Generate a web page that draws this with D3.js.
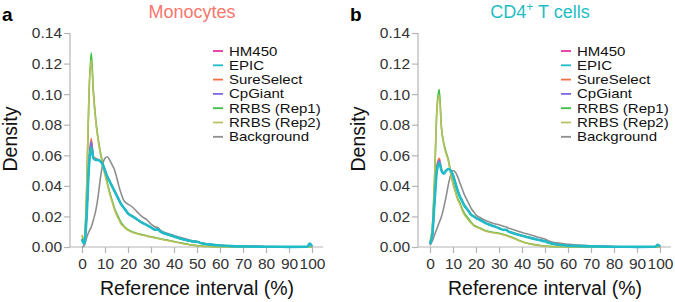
<!DOCTYPE html>
<html>
<head>
<meta charset="utf-8">
<script src="https://cdn.jsdelivr.net/npm/d3@7"></script>
<style>
  html, body { margin: 0; padding: 0; background: #fff; }
  svg { display: block; font-family: "Liberation Sans", Arial, Helvetica, sans-serif; }
</style>
</head>
<body>
<svg id="chart" width="675" height="302"></svg>
<script>
// ---------- DATA ----------
const xGrid = [0,1,2,3,4,5,6,7,8,9,10,11,12,13,14,15,16,17,18,19,20,22,24,26,28,30,32,33,34,36,38,40,42,44,46,48,50,52,55,60,65,70,80,90,98,99,100];

const seriesNames = ["HM450","EPIC","SureSelect","CpGiant","RRBS (Rep1)","RRBS (Rep2)","Background"];
const seriesColors = ["#E5359B","#1FBCC8","#F07046","#7B6BE8","#3CBF3C","#BDBE5E","#8E8E8E"];
const yTicks = [0, 0.02, 0.04, 0.06, 0.08, 0.10, 0.12, 0.14];
const xTicks = [0,10,20,30,40,50,60,70,80,90,100];

// Monocytes (panel a)
const monoHM450 =      [0.005,0.002,0.020,0.053,0.068,0.058,0.057,0.057,0.056,0.054,0.050,0.046,0.043,0.040,0.037,0.034,0.031,0.028,0.026,0.024,0.022,0.020,0.018,0.016,0.0145,0.0128,0.0113,0.0115,0.0102,0.0088,0.0078,0.0068,0.0059,0.0050,0.0043,0.0037,0.0034,0.0024,0.0017,0.0010,0.0006,0.0004,0.0002,0.0001,0.0002,0.0022,0.0004];
const monoEPIC =       [0.005,0.002,0.020,0.052,0.065,0.058,0.057,0.057,0.056,0.054,0.050,0.046,0.043,0.040,0.037,0.034,0.031,0.028,0.026,0.024,0.022,0.020,0.018,0.016,0.0145,0.0128,0.0113,0.0115,0.0102,0.0088,0.0078,0.0068,0.0059,0.0050,0.0043,0.0037,0.0034,0.0024,0.0017,0.0010,0.0006,0.0004,0.0002,0.0001,0.0002,0.0022,0.0004];
const monoSureSelect = [0.005,0.002,0.021,0.055,0.071,0.059,0.058,0.057,0.056,0.054,0.050,0.046,0.043,0.040,0.037,0.034,0.031,0.028,0.026,0.024,0.022,0.020,0.018,0.016,0.0145,0.0128,0.0113,0.0115,0.0102,0.0088,0.0078,0.0068,0.0059,0.0050,0.0043,0.0037,0.0034,0.0024,0.0017,0.0010,0.0006,0.0004,0.0002,0.0001,0.0002,0.0022,0.0004];
const monoCpGiant =    [0.005,0.002,0.020,0.054,0.069,0.058,0.057,0.057,0.056,0.054,0.050,0.046,0.043,0.040,0.037,0.034,0.031,0.028,0.026,0.024,0.022,0.020,0.018,0.016,0.0145,0.0128,0.0113,0.0115,0.0102,0.0088,0.0078,0.0068,0.0059,0.0050,0.0043,0.0037,0.0034,0.0024,0.0017,0.0010,0.0006,0.0004,0.0002,0.0001,0.0002,0.0022,0.0004];
const monoRRBS1 =      [0.007,0.004,0.035,0.097,0.127,0.101,0.083,0.071,0.062,0.055,0.048,0.042,0.036,0.031,0.026,0.022,0.019,0.016,0.014,0.0125,0.0113,0.0098,0.0089,0.0081,0.0074,0.0067,0.0061,0.0058,0.0054,0.0048,0.0042,0.0036,0.0030,0.0024,0.0018,0.0013,0.0009,0.0006,0.0003,0.0002,0.0001,0.0001,0,0,0,0.0002,0];
const monoRRBS2 =      [0.008,0.005,0.038,0.099,0.122,0.099,0.082,0.070,0.061,0.054,0.047,0.041,0.035,0.030,0.025,0.021,0.018,0.015,0.0135,0.012,0.011,0.0095,0.0087,0.0079,0.0072,0.0065,0.0059,0.0056,0.0052,0.0046,0.0040,0.0034,0.0028,0.0022,0.0016,0.0011,0.0008,0.0005,0.0003,0.0001,0.0001,0,0,0,0,0.0002,0];
const monoBackground = [0.000,0.001,0.006,0.010,0.013,0.018,0.024,0.033,0.045,0.054,0.058,0.059,0.057,0.054,0.051,0.046,0.040,0.035,0.031,0.029,0.028,0.026,0.023,0.020,0.018,0.015,0.013,0.0128,0.011,0.0095,0.0085,0.0075,0.0066,0.0057,0.0049,0.0041,0.0036,0.0027,0.0019,0.0011,0.0007,0.0005,0.0003,0.0001,0.0002,0.0018,0.0003];

// CD4+ T cells (panel b)
const cd4HM450 =       [0.002,0.008,0.030,0.052,0.056,0.050,0.048,0.050,0.051,0.050,0.047,0.042,0.037,0.033,0.030,0.027,0.025,0.023,0.021,0.020,0.019,0.0175,0.0158,0.0145,0.0135,0.0123,0.0112,0.0113,0.0102,0.0092,0.0082,0.0074,0.0066,0.0058,0.0051,0.0044,0.0037,0.0026,0.0016,0.0009,0.0006,0.0004,0.0002,0.0001,0.0002,0.0015,0.0003];
const cd4EPIC =        [0.002,0.008,0.030,0.050,0.055,0.050,0.048,0.050,0.051,0.050,0.047,0.042,0.037,0.033,0.030,0.027,0.025,0.023,0.021,0.020,0.019,0.0175,0.0158,0.0145,0.0135,0.0123,0.0112,0.0113,0.0102,0.0092,0.0082,0.0074,0.0066,0.0058,0.0051,0.0044,0.0037,0.0026,0.0016,0.0009,0.0006,0.0004,0.0002,0.0001,0.0002,0.0015,0.0003];
const cd4SureSelect =  [0.002,0.008,0.031,0.053,0.058,0.051,0.048,0.050,0.051,0.050,0.047,0.042,0.037,0.033,0.030,0.027,0.025,0.023,0.021,0.020,0.019,0.0175,0.0158,0.0145,0.0135,0.0123,0.0112,0.0113,0.0102,0.0092,0.0082,0.0074,0.0066,0.0058,0.0051,0.0044,0.0037,0.0026,0.0016,0.0009,0.0006,0.0004,0.0002,0.0001,0.0002,0.0015,0.0003];
const cd4CpGiant =     [0.002,0.008,0.030,0.052,0.0565,0.050,0.048,0.050,0.051,0.050,0.047,0.042,0.037,0.033,0.030,0.027,0.025,0.023,0.021,0.020,0.019,0.0175,0.0158,0.0145,0.0135,0.0123,0.0112,0.0113,0.0102,0.0092,0.0082,0.0074,0.0066,0.0058,0.0051,0.0044,0.0037,0.0026,0.0016,0.0009,0.0006,0.0004,0.0002,0.0001,0.0002,0.0015,0.0003];
const cd4RRBS1 =       [0.003,0.012,0.045,0.090,0.103,0.078,0.068,0.062,0.057,0.049,0.042,0.037,0.032,0.029,0.025,0.022,0.020,0.018,0.016,0.0145,0.0135,0.0122,0.0108,0.0100,0.0095,0.0090,0.0082,0.0078,0.0072,0.0062,0.0048,0.0036,0.0026,0.0019,0.0014,0.0010,0.0007,0.0004,0.0002,0.0001,0,0,0,0,0,0.0001,0];
const cd4RRBS2 =       [0.004,0.013,0.047,0.089,0.099,0.077,0.067,0.061,0.056,0.048,0.041,0.036,0.031,0.028,0.024,0.021,0.019,0.017,0.0155,0.014,0.013,0.0118,0.0105,0.0097,0.0092,0.0087,0.0079,0.0075,0.0069,0.0059,0.0046,0.0034,0.0025,0.0018,0.0013,0.0009,0.0006,0.0003,0.0002,0.0001,0,0,0,0,0,0.0001,0];
const cd4Background =  [0.001,0.004,0.008,0.012,0.016,0.020,0.026,0.033,0.041,0.047,0.050,0.049,0.046,0.042,0.038,0.034,0.031,0.028,0.025,0.023,0.021,0.019,0.0175,0.0163,0.0152,0.0145,0.0135,0.0132,0.0125,0.0115,0.0105,0.0095,0.0086,0.0078,0.0069,0.0060,0.0052,0.0038,0.0027,0.0018,0.0012,0.0007,0.0003,0.0001,0.0002,0.0015,0.0003];

const panels = [
  { letter: "a", title: "Monocytes", titleSup: "", titleRest: "", titleColor: "#F8766D",
    series: [monoHM450, monoEPIC, monoSureSelect, monoCpGiant, monoRRBS1, monoRRBS2, monoBackground],
    ox: 0 },
  { letter: "b", title: "CD4", titleSup: "+", titleRest: " T cells", titleColor: "#1FBDC4",
    series: [cd4HM450, cd4EPIC, cd4SureSelect, cd4CpGiant, cd4RRBS1, cd4RRBS2, cd4Background],
    ox: 348 }
];

// ---------- DRAW ----------
const svg = d3.select("#chart");
const drawOrder = [6, 0, 2, 3, 4, 5, 1]; // background first, EPIC on top

panels.forEach(p => {
  const g = svg.append("g").attr("transform", `translate(${p.ox},0)`);
  const axisX = 70, x0 = 82, x1 = 312, xEnd = 323, yTop = 33, yBot = 247;
  const x = d3.scaleLinear().domain([0, 100]).range([x0, x1]);
  const y = d3.scaleLinear().domain([0, 0.14]).range([yBot, yTop]);

  // y axis
  const yAx = g.append("g").attr("transform", `translate(${axisX},0)`)
    .call(d3.axisLeft(y).tickValues(yTicks).tickFormat(d3.format(".2f")).tickSize(6).tickPadding(2));
  // x axis
  const xAx = g.append("g").attr("transform", `translate(0,${yBot})`)
    .call(d3.axisBottom(x).tickValues(xTicks).tickFormat(d3.format("d")).tickSize(6).tickPadding(5));
  [yAx, xAx].forEach(a => {
    a.select(".domain").remove();
    a.selectAll(".tick line").attr("stroke", "#b5b5b5").attr("stroke-width", 1.2);
    a.selectAll(".tick text").attr("fill", "#333").style("font-size", "15.5px")
      .style("font-family", "'Liberation Sans', Arial, sans-serif");
  });
  g.append("line").attr("x1", axisX).attr("x2", axisX).attr("y1", y(0.14)).attr("y2", y(0))
    .attr("stroke", "#b5b5b5").attr("stroke-width", 1.2);
  g.append("line").attr("x1", axisX).attr("x2", xEnd).attr("y1", yBot).attr("y2", yBot)
    .attr("stroke", "#b5b5b5").attr("stroke-width", 1.2);

  // lines
  const line = d3.line().x((d, i) => x(xGrid[i])).y(d => y(d)).curve(d3.curveMonotoneX);
  drawOrder.forEach(si => {
    g.append("path").datum(p.series[si])
      .attr("d", line)
      .attr("fill", "none")
      .attr("stroke", seriesColors[si])
      .attr("stroke-width", si === 1 ? 2.6 : 1.6)
      .attr("stroke-linejoin", "round");
  });

  // axis titles
  g.append("text").attr("x", 197).attr("y", 295).attr("text-anchor", "middle")
    .style("font-size", "19.5px").attr("fill", "#111").text("Reference interval (%)");
  g.append("text").attr("transform", `translate(17,139) rotate(-90)`).attr("text-anchor", "middle")
    .style("font-size", "19.5px").attr("fill", "#111").text("Density");

  // panel letter
  g.append("text").attr("x", 2).attr("y", 21).style("font-size", "19px").style("font-weight", "bold")
    .attr("fill", "#000").text(p.letter);

  // title
  const t = g.append("text").attr("x", 192).attr("y", 18).attr("text-anchor", "middle")
    .style("font-size", "18px").attr("fill", p.titleColor);
  t.append("tspan").text(p.title);
  if (p.titleSup) {
    t.append("tspan").attr("dy", -7).style("font-size", "12px").text(p.titleSup);
    t.append("tspan").attr("dy", 7).text(p.titleRest);
  }

  // legend
  const lg = g.append("g").attr("transform", "translate(213,51)");
  seriesNames.forEach((name, i) => {
    const row = lg.append("g").attr("transform", `translate(0,${i * 14.3})`);
    row.append("line").attr("x1", 0).attr("x2", 10).attr("y1", 0).attr("y2", 0)
      .attr("stroke", seriesColors[i]).attr("stroke-width", 1.8);
    row.append("text").attr("transform", "translate(16,0) scale(1.2,1)").attr("dy", "0.36em")
      .style("font-size", "12.5px").attr("fill", "#111").text(name);
  });
});
</script>
</body>
</html>
